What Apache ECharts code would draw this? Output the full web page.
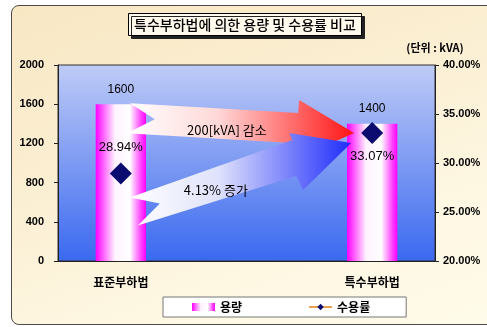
<!DOCTYPE html>
<html>
<head>
<meta charset="utf-8">
<script src="https://cdn.jsdelivr.net/npm/echarts@6/dist/echarts.min.js"></script>
<style>
  html, body { margin: 0; padding: 0; background: #fff; }
  #wrap { position: relative; width: 487px; height: 327px; overflow: hidden; }
  .frame {
    position: absolute; left: 11px; top: 5px; width: 500px; height: 318px;
    border: 1.5px solid #4a4a4a; border-radius: 8px;
    background: linear-gradient(160deg, #f8e7c3 0%, #fbefd3 40%, #fef8e4 75%, #fffbea 100%);
  }
  #main { position: absolute; left: 0; top: 0; width: 487px; height: 327px; }
</style>
</head>
<body>
<div id="wrap">
  <div class="frame"></div>
  <div id="main"></div>
</div>
<script>
  // 데이터
  var categories = ['표준부하법', '', '특수부하법'];
  var capacity = [1600, null, 1400];      // 용량 (kVA)
  var demandRate = [28.94, null, 33.07];  // 수용률 (%)
  var capAxis = { min: 0, max: 2000, interval: 400 };
  var rateAxis = { min: 20, max: 40, interval: 5 };
  var arrowNotes = ['200[kVA] 감소', '4.13% 증가'];

  var numFont = '"Liberation Sans", Arial, "Noto Sans CJK KR", sans-serif';
  var korFont = '"Noto Sans CJK KR", "Liberation Sans", sans-serif';

  var barColor = {
    type: 'linear', x: 0, y: 0, x2: 1, y2: 0,
    colorStops: [
      { offset: 0, color: '#ff00ff' },
      { offset: 0.38, color: '#fff2ff' },
      { offset: 0.68, color: '#ffffff' },
      { offset: 0.9, color: '#ff44ff' },
      { offset: 1, color: '#ff00ff' }
    ]
  };

  var myChart = echarts.init(document.getElementById('main'));
  var option = {
    backgroundColor: 'transparent',
    animation: false,
    title: {
      text: '특수부하법에 의한 용량 및 수용률 비교',
      left: 128, top: 13,
      padding: [5, 6, 4, 6],
      backgroundColor: '#fffaec',
      borderColor: '#000', borderWidth: 1,
      shadowColor: '#222', shadowOffsetX: 3, shadowOffsetY: 3, shadowBlur: 0,
      textStyle: { fontFamily: korFont, fontSize: 14, fontWeight: 500, color: '#000' }
    },
    legend: {
      left: 163, top: 297,
      padding: [4, 36, 4, 29],
      itemGap: 66, itemWidth: 23, itemHeight: 8,
      backgroundColor: '#fff', borderColor: '#777', borderWidth: 1,
      textStyle: { fontFamily: korFont, fontSize: 12, fontWeight: 'bold', color: '#000' },
      data: [{ name: '용량', icon: 'rect' }, { name: '수용률' }]
    },
    grid: {
      left: 58, right: 52, top: 65, bottom: 66,
      show: true,
      borderColor: '#333', borderWidth: 1,
      backgroundColor: {
        type: 'linear', x: 0, y: 0, x2: 0, y2: 1,
        colorStops: [{ offset: 0, color: '#bfcbf6' }, { offset: 1, color: '#3a69f0' }]
      }
    },
    xAxis: {
      type: 'category',
      data: categories,
      axisLine: { lineStyle: { color: '#222' } },
      axisTick: { inside: true, length: 4, lineStyle: { color: '#222' } },
      axisLabel: { margin: 15, fontFamily: korFont, fontSize: 12, fontWeight: 'bold', color: '#000' }
    },
    yAxis: [{
      type: 'value',
      min: capAxis.min, max: capAxis.max, interval: capAxis.interval,
      axisLine: { show: true, lineStyle: { color: '#222' } },
      axisTick: { show: true, length: 4, lineStyle: { color: '#222' } },
      splitLine: { show: false },
      axisLabel: {
        margin: 14, fontFamily: numFont, fontSize: 11, fontWeight: 'bold', color: '#000',
        formatter: function (v) { return String(v); }
      }
    }, {
      type: 'value',
      position: 'right',
      min: rateAxis.min, max: rateAxis.max, interval: rateAxis.interval,
      name: '(단위 : kVA)',
      nameLocation: 'end',
      nameGap: 12,
      nameTextStyle: { fontFamily: korFont, fontSize: 11, fontWeight: 'bold', color: '#000', align: 'center' },
      axisLine: { show: true, lineStyle: { color: '#222' } },
      axisTick: { show: true, length: 4, lineStyle: { color: '#222' } },
      splitLine: { show: false },
      axisLabel: {
        margin: 8, fontFamily: numFont, fontSize: 11, fontWeight: 'bold', color: '#000',
        formatter: function (v) { return v.toFixed(2) + '%'; }
      }
    }],
    series: [{
      name: '용량',
      type: 'bar',
      barWidth: '40%',
      z: 2,
      itemStyle: { color: barColor },
      label: { show: true, position: 'top', distance: 9, fontFamily: numFont, fontSize: 12, color: '#000' },
      data: capacity.map(function (v) { return v == null ? '-' : v; })
    }, {
      name: '수용률',
      type: 'line',
      yAxisIndex: 1,
      z: 20,
      symbol: 'diamond',
      symbolSize: 22,
      connectNulls: false,
      lineStyle: { color: '#e8a050', width: 1 },
      itemStyle: { color: '#0c0c70' },
      label: {
        show: true, fontFamily: numFont, fontSize: 13, color: '#000',
        formatter: function (p) { return p.value.toFixed(2) + '%'; }
      },
      data: demandRate.map(function (v, i) {
        if (v == null) return '-';
        return { value: v, label: { position: i === 0 ? 'top' : 'bottom', distance: i === 0 ? 8 : 6 } };
      })
    }]
  };
  myChart.setOption(option);

  // 화살표 주석: 막대/표식 위치를 기준으로 배치
  var pA = myChart.convertToPixel({ xAxisIndex: 0, yAxisIndex: 0 }, [0, capacity[0]]);
  var pM1 = myChart.convertToPixel({ xAxisIndex: 0, yAxisIndex: 1 }, [0, demandRate[0]]);
  var pM2 = myChart.convertToPixel({ xAxisIndex: 0, yAxisIndex: 1 }, [2, demandRate[2]]);

  function pts(base, offs) {
    return offs.map(function (o) { return [base[0] + o[0], base[1] + o[1]]; });
  }
  function grad(c1, c2, c3) {
    return {
      type: 'linear', x: 0, y: 0, x2: 1, y2: 0,
      colorStops: [{ offset: 0, color: c1 }, { offset: 0.4, color: c2 }, { offset: 1, color: c3 }]
    };
  }

  var redArrow = pts(pA, [[9, -1], [34, 15], [6, 29]])
    .concat(pts(pM2, [[-81, 10], [-79, 27], [-18, 0], [-73, -33], [-74, -20]]));
  var blueArrow = pts(pM1, [[9, 24], [39, 30], [17, 52]])
    .concat(pts(pM2, [[-76, 43], [-69, 57], [-21, 10], [-83, 0], [-80, 7]]));

  myChart.setOption({
    graphic: [{
      type: 'polygon', z: 10,
      shape: { points: redArrow },
      style: { fill: grad('#ffffff', '#ffd8d8', '#ff1414') }
    }, {
      type: 'polygon', z: 11,
      shape: { points: blueArrow },
      style: { fill: grad('#ffffff', '#dfe2fb', '#1f2cfb') }
    }, {
      type: 'text', z: 12,
      x: pA[0] + 106, y: pA[1] + 26,
      style: {
        text: arrowNotes[0], align: 'center', verticalAlign: 'middle',
        font: '13px ' + korFont, fill: '#000'
      }
    }, {
      type: 'text', z: 12,
      x: pM1[0] + 95, y: pM1[1] + 17,
      style: {
        text: arrowNotes[1], align: 'center', verticalAlign: 'middle',
        font: '13px ' + korFont, fill: '#000'
      }
    }]
  });
</script>
</body>
</html>
